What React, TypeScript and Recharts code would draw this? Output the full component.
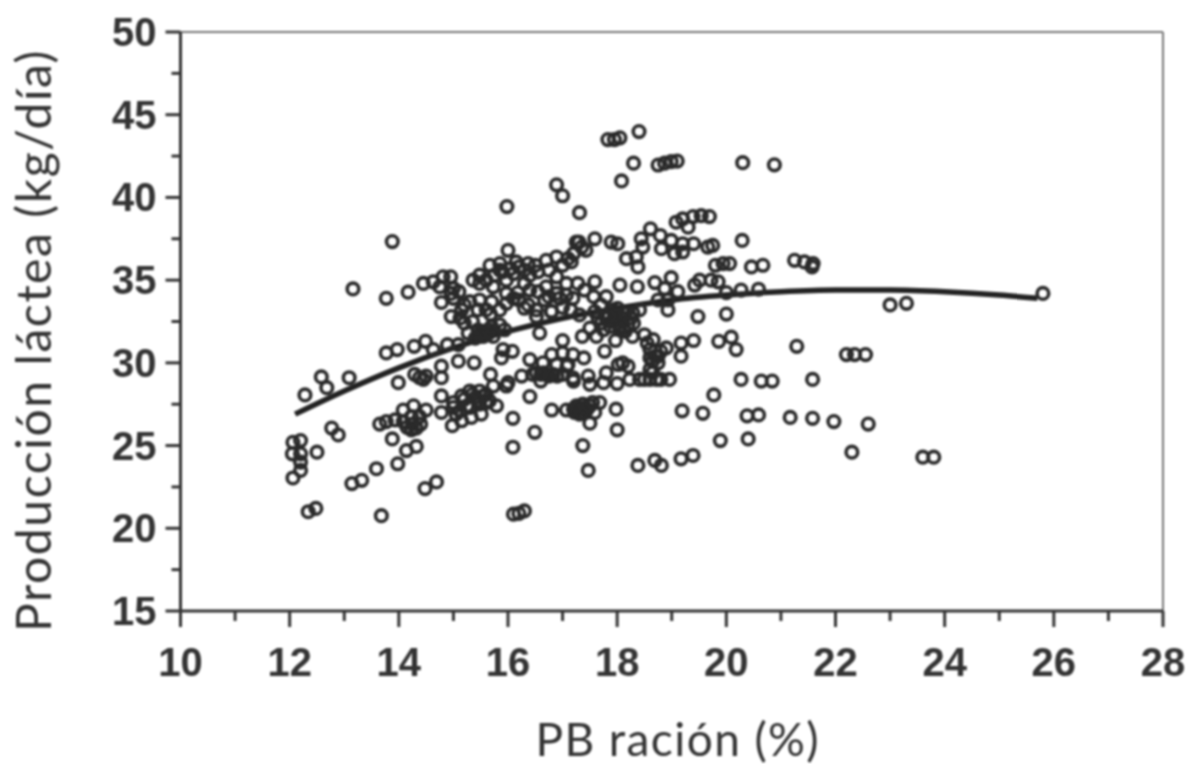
import { ComposedChart, Line, Scatter, XAxis, YAxis, ReferenceLine, Label } from "recharts";

const INK = "#333";
const TICK_FONT = "'Liberation Sans', Arial, sans-serif";
const TITLE_FONT = "Lato, 'Open Sans', sans-serif";

const xTicks = [10, 11, 12, 13, 14, 15, 16, 17, 18, 19, 20, 21, 22, 23, 24, 25, 26, 27, 28];
const yTicks = [15, 17.5, 20, 22.5, 25, 27.5, 30, 32.5, 35, 37.5, 40, 42.5, 45, 47.5, 50];

// [PB %, kg/dia], left to right
const leftEdge = [
  [12.06, 23.04], [12.2, 23.5], [12.05, 24.5], [12.2, 24.5], [12.2, 24.0], [12.06, 25.2], [12.2, 25.3], [12.5, 24.6],
  [12.34, 21], [12.48, 21.2], [12.28, 28.06], [12.58, 29.15], [12.68, 28.5], [13.09, 29.1], [12.77, 26.06], [12.89, 25.64],
  [13.14, 22.7], [13.32, 22.9], [13.59, 23.6], [13.68, 20.76], [13.98, 23.9], [14.48, 22.4], [14.69, 22.8],
  [13.16, 34.47], [13.77, 33.9], [14.17, 34.27], [13.88, 37.33], [13.77, 30.6], [13.97, 30.8], [14.28, 31], [14.49, 31.3],
];
const lowerLeft = [
  [13.65, 26.3], [13.77, 26.45], [13.93, 26.55], [14.08, 27.15], [14.27, 27.4], [14.5, 27.15], [14.23, 26.75], [14.38, 26.75],
  [14.08, 26.45], [14.23, 25.95], [14.32, 26.05], [13.88, 25.4], [14.14, 24.7], [14.32, 24.95], [13.99, 28.8], [14.29, 29.3],
  [14.45, 29], [14.38, 29.1], [14.63, 30.8], [14.78, 29.8], [14.78, 29.1], [14.78, 28], [14.78, 27], [14.98, 26.2],
  [14.4, 26.3], [14.15, 26.1], [14.25, 26.3], [14.5, 29.2],
];
const lowerBand = [
  [15, 27.6], [15.15, 28], [15.3, 28.3], [15.48, 28.3], [15.6, 28.1], [15.79, 27.4], [15.12, 27.1], [15.3, 27.3],
  [15.48, 27.5], [15.66, 27.7], [15.15, 26.5], [15.33, 26.7], [15.51, 26.9], [15.68, 29.3], [15.73, 28.6], [15.97, 28.6],
  [16, 28.8], [16.09, 26.65], [16.4, 27.96], [16.49, 25.8], [16.09, 24.9], [16.1, 20.85], [16.2, 20.9], [16.3, 21.05],
  [15.09, 30.1], [15.38, 30], [14.89, 31.1], [15.09, 31.1], [15.27, 31.8], [15.48, 31.6], [15.64, 32], [15.73, 31.6],
  [15.6, 31.7], [15.55, 31.9], [15.94, 32], [16.08, 30.7], [15.88, 30.3], [15.91, 30.8], [16.58, 31.8],
  [15.2, 27.8], [15.4, 27.9], [15.55, 28], [15.35, 28.1], [15.45, 27.7], [15.25, 27.4], [15.6, 27.6], [15.05, 26.9], [15, 27.3],
  [15.45, 32], [15.55, 31.6], [15.65, 31.8], [15.5, 31.8], [15.7, 32.2], [15.4, 31.5], [15.35, 32.5], [15.85, 32.3],
];
const upperBand = [
  [14.45, 34.8], [14.63, 34.9], [14.81, 35.2], [14.95, 35.2], [14.75, 34.6], [14.96, 34.2], [14.78, 33.65], [14.96, 32.8],
  [15.12, 32.7], [15.15, 33.2], [15.36, 35], [15.48, 35.3], [15.67, 35.9], [16, 36.8], [15.85, 36], [16.15, 36.1],
  [16.37, 36], [16.7, 36.2], [16.89, 36.4], [17.16, 36.1], [17.25, 37.3], [16.1, 35.4], [16.4, 35.3], [16.89, 35.2],
  [15.48, 34.8], [15.73, 34.6], [15.97, 35], [15.97, 34.2], [16.18, 34.25], [16.37, 33.5], [16.67, 33.8], [16.8, 33.1],
  [17, 33.35], [17.19, 33.9], [16.52, 32.8], [15.68, 32.94], [15.48, 33.8], [15.3, 33.7], [15.7, 33.7], [15.97, 33.6],
  [16.4, 34.4], [16.7, 34.6], [17.07, 34.8], [17.28, 34.8], [16.89, 34.2], [17.07, 34.1], [16.75, 34], [16.52, 33.2],
  [15.98, 39.45], [16.89, 40.76], [17, 40.1], [17.31, 39.08], [16.2, 35.8], [16.5, 35.9], [16.79, 33.1], [15.85, 35.6],
  [15, 34.5], [15.1, 34.3], [15.2, 33.5], [15.6, 35], [15.75, 35.3], [15.9, 35.5], [16.05, 35.7], [16.3, 35.6],
  [16.55, 35.5], [16.75, 35.6], [17, 35.9], [17.1, 36.3], [17.2, 36.6], [17.35, 37], [16.3, 34.8], [16.55, 34.3],
  [16.95, 33.9], [17.15, 33.2], [16.2, 33.8], [16.3, 33.3], [15.85, 33.2], [16.1, 33.9], [15.2, 32.4], [15.45, 33.2],
  [15.6, 33.2], [15, 33.9],
];
const middle = [
  [16.4, 30.2], [17, 31.35], [17, 30.6], [17.19, 30.5], [16.8, 30.5], [16.89, 29.9], [17.08, 29.8], [16.64, 30],
  [16.25, 29.2], [16.52, 29.4], [16.7, 29.3], [16.83, 29.3], [17, 29.3], [16.6, 28.9], [17.19, 29.1], [16.8, 27.15],
  [17.07, 27.15], [17.22, 27], [17.36, 31.6], [17.62, 31.6], [17.97, 31.35], [18.28, 31.6], [17.77, 30.7], [17.39, 30.3],
  [17.1, 29.9], [18.02, 29.9], [18.2, 29.8], [18.1, 30], [17.47, 29.2], [17.8, 29.4], [17.2, 28.9], [17.5, 28.7],
  [17.75, 28.8], [18, 28.75], [18.23, 29], [18.41, 29], [18.6, 29], [18.72, 29], [18.96, 29], [18.6, 29.6],
  [17.3, 27.2], [17.45, 27.2], [17.37, 27.5], [17.68, 27.6], [17.5, 26.35], [17.31, 26.9], [17.43, 27.1], [17.59, 27],
  [17.98, 27.2], [18, 25.95], [17.37, 25], [17.47, 23.5],
  [16.65, 29.4], [16.75, 29.2], [16.6, 29.3], [16.9, 29.2], [16.45, 29.3],
  [17.2, 27.2], [17.35, 27], [17.4, 27.3], [17.5, 27.4], [17.55, 27.6], [17.25, 27.4],
  [18.5, 29], [18.8, 29], [18.65, 29.4],
];
const denseCentre = [
  [17.57, 34], [17.8, 34], [18.01, 33.3], [17.59, 33.1], [17.8, 32.7], [17.98, 32.7], [18.1, 32.7], [18.29, 33],
  [18.41, 33.2], [17.87, 32.2], [18.05, 32.2], [17.71, 32.4], [17.5, 32.1], [17.92, 33.2], [18.2, 32.3], [17.31, 32.9],
  [17.59, 34.9], [18.05, 34.7], [17.4, 34.4], [17.7, 33.5], [18.15, 31.9], [18.3, 32.4], [18.5, 31.7], [18.6, 30.8],
  [18.66, 31.4], [18.75, 30.4], [18.65, 30.1], [18.8, 30.7],
  [17.9, 32.5], [18, 32.4], [18.1, 32.5], [17.95, 32.9], [18.15, 33], [17.85, 32.8], [18.05, 32], [18.25, 32.7],
  [17.75, 32], [17.65, 32.7], [18.7, 30.4], [18.75, 30], [18.6, 30.3], [18.55, 31.2],
];
const upperRight = [
  [18.4, 43.98], [17.83, 43.5], [17.95, 43.5], [18.05, 43.6], [18.3, 42.07], [18.08, 41], [18.75, 41.96], [18.87, 42.07],
  [18.99, 42.17], [19.1, 42.2], [20.3, 42.1], [20.88, 41.97], [19.08, 38.5], [19.2, 38.7], [19.39, 38.84], [19.54, 38.9],
  [19.69, 38.84], [19.3, 38.2], [18.61, 38.1], [18.79, 37.7], [18.99, 37.4], [19.2, 37.2], [19.4, 37.2], [19.66, 37],
  [19.75, 37.1], [18.44, 37.5], [18.47, 37], [18.81, 36.9], [19.05, 36.6], [19.2, 36.7], [18.17, 36.3], [18.35, 36.4],
  [18.38, 35.8], [17.3, 37.3], [17.59, 37.5], [17.89, 37.3], [18.01, 37.2], [17.43, 36.8], [20.29, 37.4], [19.8, 35.9],
  [19.94, 36], [20.06, 36], [20.46, 35.8], [20.67, 35.9], [21.25, 36.2], [21.43, 36.1], [21.59, 36], [21.57, 35.8],
  [18.37, 34.6], [18.69, 34.85], [18.99, 35.15], [18.87, 34.5], [19.11, 34.3], [18.75, 33.8], [18.93, 33.8], [18.93, 33.2],
  [19.42, 34.7], [19.51, 35], [19.72, 35], [19.85, 34.9], [20, 34.25], [20.27, 34.4], [20.59, 34.45], [19.48, 32.8],
  [20, 32.95], [23, 33.5], [23.3, 33.6], [25.8, 34.2],
];
const lowerRight = [
  [18.9, 30.9], [19.17, 31.2], [19.17, 30.4], [19.4, 31.35], [19.86, 31.3], [20.09, 31.55], [20.18, 30.8], [21.29, 31],
  [20.27, 29], [20.64, 28.9], [20.84, 28.9], [21.58, 29], [19.77, 28.06], [19.19, 27.1], [19.57, 26.95], [20.38, 26.8],
  [20.59, 26.85], [21.17, 26.7], [21.58, 26.65], [21.97, 26.45], [22.6, 26.3], [22.3, 24.6], [22.2, 30.5], [22.35, 30.5],
  [22.55, 30.5], [23.6, 24.3], [23.8, 24.3], [18.38, 23.8], [18.69, 24.1], [18.81, 23.8], [19.17, 24.2], [19.39, 24.4],
  [19.89, 25.3], [20.4, 25.4],
];
const curveX = [12.1, 13, 14, 15, 16, 17, 18, 19, 20, 21, 22, 23, 24, 25, 25.7];
const curveY = [26.9, 28.3, 29.7, 30.9, 31.9, 32.7, 33.3, 33.8, 34.1, 34.3, 34.4, 34.4, 34.3, 34.1, 33.9];

const points = [...leftEdge, ...lowerLeft, ...lowerBand, ...upperBand, ...middle, ...denseCentre, ...upperRight, ...lowerRight].map(
  ([x, y]) => ({ x, y })
);
const curve = curveX.map((x, i) => ({ x, y: curveY[i] }));

function Ring(props: any) {
  return <circle cx={props.cx} cy={props.cy} r={5.8} fill="none" stroke="#2a2a2a" strokeWidth={3.6} />;
}

function XTick({ x, y, payload }: any) {
  const major = payload.value % 2 === 0;
  return (
    <g>
      <line x1={x} x2={x} y1={y} y2={y + (major ? 16 : 10)} stroke={INK} strokeWidth={3} />
      {major && (
        <text x={x} y={y + 65} textAnchor="middle" fontFamily={TICK_FONT} fontWeight="bold" fontSize={40} fill={INK}>
          {payload.value}
        </text>
      )}
    </g>
  );
}

function YTick({ x, y, payload }: any) {
  const major = payload.value % 5 === 0;
  return (
    <g>
      <line x1={x} x2={x - (major ? 15 : 9)} y1={y} y2={y} stroke={INK} strokeWidth={3} />
      {major && (
        <text x={x - 24} y={y + 14} textAnchor="end" fontFamily={TICK_FONT} fontWeight="bold" fontSize={40} fill={INK}>
          {payload.value}
        </text>
      )}
    </g>
  );
}

export default function App() {
  return (
    <div style={{ position: "absolute", left: 0, top: 0, filter: "blur(0.8px)" }}>
      <ComposedChart width={1189} height={764} margin={{ top: 32, right: 26, bottom: 0, left: 0 }} data={curve}>
        <XAxis
          type="number"
          dataKey="x"
          domain={[10, 28]}
          ticks={xTicks}
          interval={0}
          tickSize={0}
          tickMargin={0}
          height={153}
          tick={<XTick />}
          axisLine={{ stroke: INK, strokeWidth: 3 }}
        >
          <Label
            value="PB ración (%)"
            position="insideBottom"
            offset={8}
            dx={6}
            style={{ fontFamily: TITLE_FONT, fontSize: 46, fill: INK, letterSpacing: 1.4 }}
          />
        </XAxis>
        <YAxis
          type="number"
          dataKey="y"
          domain={[15, 50]}
          ticks={yTicks}
          interval={0}
          tickSize={0}
          tickMargin={0}
          width={180.5}
          tick={<YTick />}
          axisLine={{ stroke: INK, strokeWidth: 3 }}
        >
          <Label
            value="Producción láctea (kg/día)"
            angle={-90}
            position="insideLeft"
            offset={0}
            dx={34}
            dy={19}
            style={{ fontFamily: TITLE_FONT, fontSize: 48, fill: INK, textAnchor: "middle", letterSpacing: 1.6 }}
          />
        </YAxis>
        <ReferenceLine y={50} stroke="#777" strokeWidth={2} />
        <ReferenceLine x={28} stroke="#777" strokeWidth={2} />
        <Scatter data={points} dataKey="y" shape={<Ring />} isAnimationActive={false} />
        <Line
          data={curve}
          dataKey="y"
          type="monotone"
          stroke="#222"
          strokeWidth={5.5}
          dot={false}
          isAnimationActive={false}
        />
      </ComposedChart>
    </div>
  );
}
